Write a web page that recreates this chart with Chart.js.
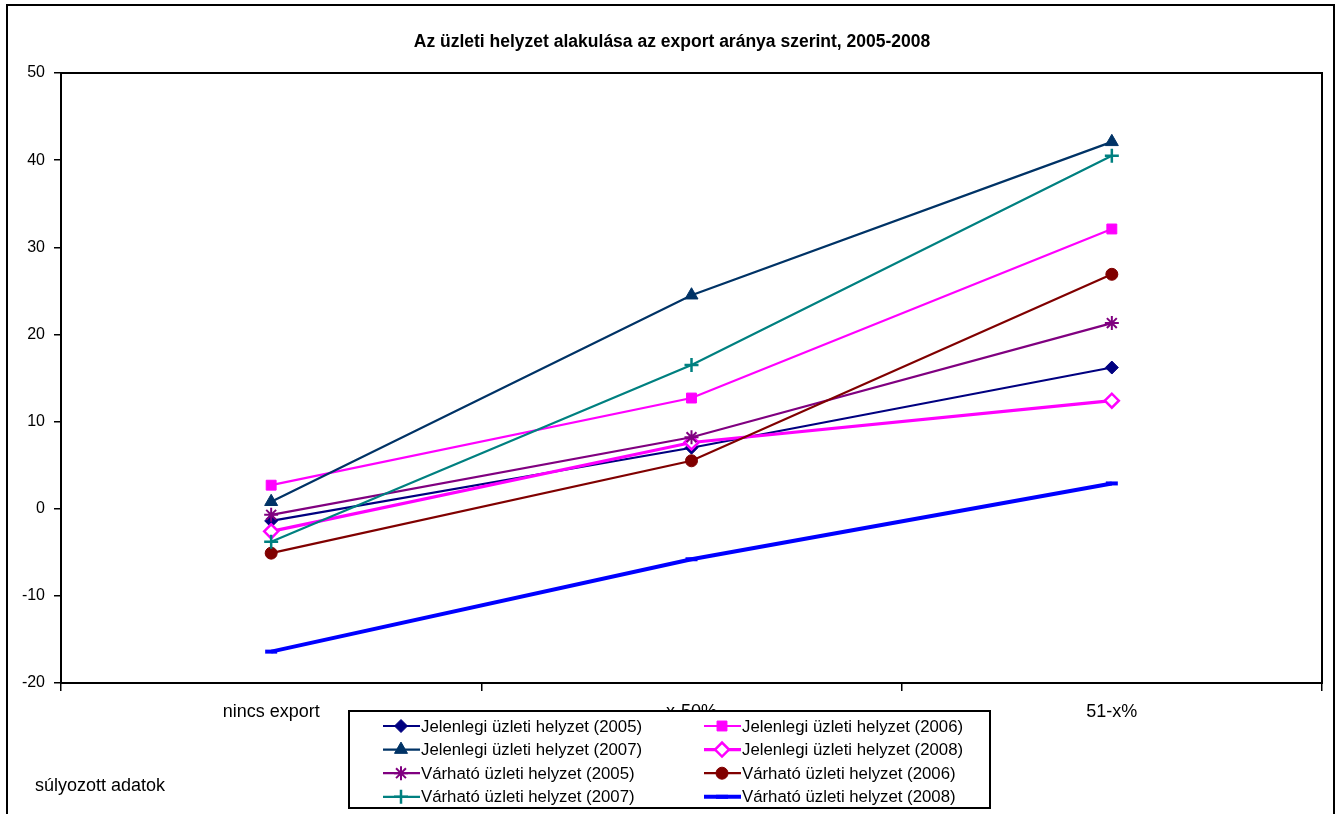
<!DOCTYPE html>
<html>
<head>
<meta charset="utf-8">
<script src="https://cdn.jsdelivr.net/npm/chart.js@4/dist/chart.umd.min.js"></script>
<style>
    body { margin: 0; background: #fff; }
    canvas { display: block; }
</style>
</head>
<body>
<canvas id="chart" width="1337" height="814"></canvas>
<script>
const categories = ["nincs export", "x-50%", "51-x%"];
const yTicks = [-20, -10, 0, 10, 20, 30, 40, 50];

const jelenlegi2005 = [-1.4, 7.0, 16.2];
const jelenlegi2006 = [2.7, 12.7, 32.1];
const jelenlegi2007 = [0.8, 24.5, 42.1];
const jelenlegi2008 = [-2.6, 7.6, 12.4];
const varhato2005 = [-0.7, 8.2, 21.3];
const varhato2006 = [-5.1, 5.5, 26.9];
const varhato2007 = [-3.8, 16.5, 40.5];
const varhato2008 = [-16.4, -5.8, 2.9];

const seriesNames = [
    "Jelenlegi üzleti helyzet (2005)",
    "Jelenlegi üzleti helyzet (2006)",
    "Jelenlegi üzleti helyzet (2007)",
    "Jelenlegi üzleti helyzet (2008)",
    "Várható üzleti helyzet (2005)",
    "Várható üzleti helyzet (2006)",
    "Várható üzleti helyzet (2007)",
    "Várható üzleti helyzet (2008)"
];

const FONT = "Arial, 'Liberation Sans', sans-serif";

function series(i, data, color, style, opts) {
    return Object.assign({
        label: seriesNames[i],
        data: data,
        borderColor: color,
        backgroundColor: color,
        pointBackgroundColor: color,
        pointBorderColor: color,
        pointStyle: style,
        pointRadius: 5,
        pointBorderWidth: 1,
        borderWidth: 2.2,
        tension: 0,
        order: 7 - i
    }, opts || {});
}

const datasets = [
    series(0, jelenlegi2005, "#000080", "rectRot", { pointRadius: 6.5 }),
    series(1, jelenlegi2006, "#ff00ff", "rect", { pointRadius: 7 }),
    series(2, jelenlegi2007, "#003366", "triangle", { pointRadius: 7.5 }),
    series(3, jelenlegi2008, "#ff00ff", "rectRot", { pointRadius: 7, pointBackgroundColor: "#fff", pointBorderWidth: 2.5, borderWidth: 3.2 }),
    series(4, varhato2005, "#800080", "star", { pointRadius: 7, pointBorderWidth: 2 }),
    series(5, varhato2006, "#800000", "circle", { pointRadius: 6 }),
    series(6, varhato2007, "#008080", "cross", { pointRadius: 7, pointBorderWidth: 2.5 }),
    series(7, varhato2008, "#0000ff", "line", { pointRadius: 6, pointBorderWidth: 4, borderWidth: 4 })
];

// frame, title, note and the boxed legend
const decorations = {
    id: "decorations",
    afterDraw(chart) {
        const ctx = chart.ctx;
        const a = chart.chartArea;
        ctx.save();

        ctx.strokeStyle = "#000";
        ctx.lineWidth = 2;
        ctx.strokeRect(a.left, a.top, a.right - a.left, a.bottom - a.top);
        ctx.strokeRect(7, 5, 1327, 812);

        ctx.fillStyle = "#000";
        ctx.font = "bold 17.5px " + FONT;
        ctx.textAlign = "center";
        ctx.textBaseline = "middle";
        ctx.fillText("Az üzleti helyzet alakulása az export aránya szerint, 2005-2008", 672, 42);

        ctx.font = "18px " + FONT;
        ctx.textAlign = "left";
        ctx.fillText("súlyozott adatok", 35, 786);

        // legend
        const lx = 349, ly = 711, lw = 641, lh = 97;
        ctx.fillStyle = "#fff";
        ctx.fillRect(lx, ly, lw, lh);
        ctx.strokeStyle = "#000";
        ctx.lineWidth = 2;
        ctx.strokeRect(lx, ly, lw, lh);

        ctx.font = "16.8px " + FONT;
        ctx.textBaseline = "middle";
        chart.data.datasets.forEach((ds, i) => {
            const col = i % 2, row = Math.floor(i / 2);
            const x0 = col === 0 ? 383 : 704;
            const y = 726 + row * 23.6;
            ctx.strokeStyle = ds.borderColor;
            ctx.lineWidth = ds.borderWidth;
            ctx.beginPath();
            ctx.moveTo(x0, y);
            ctx.lineTo(x0 + 37, y);
            ctx.stroke();
            ctx.fillStyle = ds.pointBackgroundColor;
            ctx.strokeStyle = ds.pointBorderColor;
            ctx.lineWidth = ds.pointBorderWidth;
            Chart.helpers.drawPoint(ctx, {
                pointStyle: ds.pointStyle,
                radius: ds.pointRadius,
                rotation: 0,
                borderWidth: ds.pointBorderWidth
            }, x0 + 18, y);
            ctx.fillStyle = "#000";
            ctx.fillText(ds.label, x0 + 38, y + 1);
        });

        ctx.restore();
    }
};

new Chart(document.getElementById("chart"), {
    type: "line",
    data: {
        labels: categories,
        datasets: datasets
    },
    options: {
        responsive: false,
        animation: false,
        layout: {
            padding: { left: 0, top: 73, right: 15, bottom: 0 }
        },
        plugins: {
            legend: { display: false },
            title: { display: false },
            tooltip: { enabled: false }
        },
        scales: {
            x: {
                type: "category",
                offset: true,
                grid: {
                    offset: true,
                    drawOnChartArea: false,
                    tickLength: 8,
                    color: "#000",
                    lineWidth: 1.5
                },
                border: { display: true, color: "#000", width: 2 },
                ticks: {
                    color: "#000",
                    font: { family: FONT, size: 18 },
                    padding: 10,
                    maxRotation: 0
                },
                afterFit(scale) {
                    scale.height = 131;
                }
            },
            y: {
                min: -20,
                max: 50,
                afterBuildTicks(scale) {
                    scale.ticks = yTicks.map(v => ({ value: v }));
                },
                grid: {
                    drawOnChartArea: false,
                    tickLength: 7,
                    color: "#000",
                    lineWidth: 1.5
                },
                border: { display: true, color: "#000", width: 2 },
                ticks: {
                    color: "#000",
                    font: { family: FONT, size: 16 },
                    padding: 9
                },
                afterFit(scale) {
                    scale.width = 61;
                }
            }
        }
    },
    plugins: [decorations]
});
</script>
</body>
</html>
